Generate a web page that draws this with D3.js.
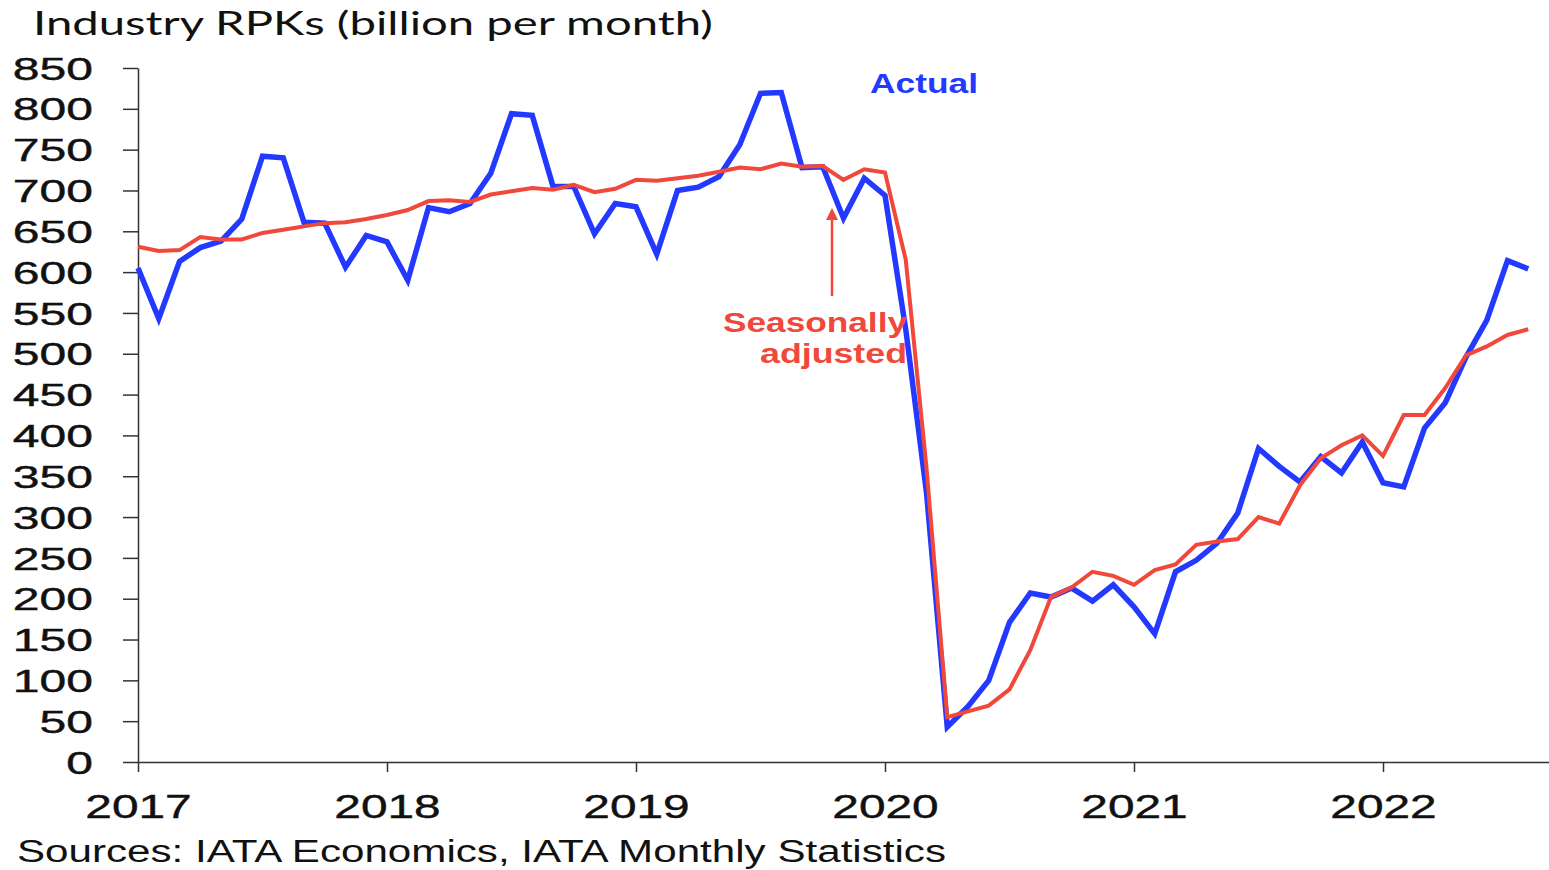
<!DOCTYPE html>
<html>
<head>
<meta charset="utf-8">
<script src="https://cdn.jsdelivr.net/npm/d3@7"></script>
<style>
  body { margin: 0; background: #fff; }
  svg text { fill: #111; }
</style>
</head>
<body>
<svg id="chart" width="1549" height="870"></svg>
<script>
// months Jan 2017 .. Aug 2022
var years = [2017, 2018, 2019, 2020, 2021, 2022];
var yTicks = [0, 50, 100, 150, 200, 250, 300, 350, 400, 450, 500, 550, 600, 650, 700, 750, 800, 850];

var actual = [
  605, 543, 613, 630, 638, 665, 742, 740, 661, 660, 606, 645,
  637, 590, 679, 674, 684, 721, 794, 792, 705, 705, 647, 684,
  680, 622, 700, 704, 717, 756, 819, 820, 728, 729, 666, 715,
  694, 530, 330, 43, 68, 100, 171, 207, 202, 213, 197, 217,
  190, 157, 233, 247, 268, 305, 384, 362, 343, 374, 354, 392,
  342, 337, 409, 440, 496, 541, 614, 604
];

var seasAdj = [
  631, 626, 627, 643, 640, 640, 648, 652, 656, 660, 661, 665,
  670, 676, 687, 688, 686, 695, 699, 703, 701, 707, 698, 702,
  713, 712, 715, 718, 723, 728, 726, 733, 729, 730, 713, 726,
  722, 615, 360, 55, 62, 69, 89, 137, 202, 214, 233, 228,
  217, 235, 242, 266, 270, 273, 300, 292, 339, 372, 388, 400,
  375, 425, 425, 458, 498, 509, 523, 530
];

var blue = "#2339ff", red = "#f0483a";

var svg = d3.select("#chart");

var x = d3.scaleLinear().domain([0, 68]).range([138, 1549]);
var y = d3.scaleLinear().domain([0, 850]).range([762, 68]);

// title
svg.append("text")
  .attr("x", 33).attr("y", 35)
  .attr("textLength", 680).attr("lengthAdjust", "spacingAndGlyphs")
  .style("font-family", "Lato, 'Open Sans', sans-serif")
  .style("font-size", "32px")
  .text("Industry RPKs (billion per month)");

// y axis
var yAxis = svg.append("g")
  .attr("transform", "translate(" + x(0) + ",0)")
  .call(d3.axisLeft(y).tickValues(yTicks).tickSize(15).tickSizeOuter(0));
yAxis.select(".domain").attr("stroke", "#333").attr("stroke-width", 1.5);
yAxis.selectAll(".tick line").attr("stroke", "#333").attr("stroke-width", 1.5);
yAxis.selectAll(".tick text")
  .attr("x", -45 / 1.55)
  .attr("dy", "0.36em")
  .attr("transform", "scale(1.55,1)")
  .style("font-family", "'Liberation Sans', Arial, sans-serif")
  .style("font-size", "31px")
  .style("fill", "#111")
  .style("stroke", "#111").style("stroke-width", 0.4);

// x axis
var xAxis = svg.append("g")
  .attr("transform", "translate(0," + y(0) + ")")
  .call(d3.axisBottom(x).tickValues([0, 12, 24, 36, 48, 60]).tickSize(10).tickSizeOuter(0)
    .tickFormat(function(d) { return years[d / 12]; }));
xAxis.select(".domain").attr("stroke", "#333").attr("stroke-width", 1.5);
xAxis.selectAll(".tick line").attr("stroke", "#333").attr("stroke-width", 1.5);
xAxis.selectAll(".tick text")
  .attr("y", 56)
  .attr("dy", 0)
  .attr("transform", "scale(1.45,1)")
  .style("font-family", "'Liberation Sans', Arial, sans-serif")
  .style("font-size", "33px")
  .style("fill", "#111")
  .style("stroke", "#111").style("stroke-width", 0.4);

// lines
var line = d3.line()
  .x(function(d, i) { return x(i); })
  .y(function(d) { return y(d); });

svg.append("path")
  .datum(actual)
  .attr("d", line)
  .attr("fill", "none")
  .attr("stroke", blue)
  .attr("stroke-width", 5.5)
  .attr("stroke-linejoin", "miter");

svg.append("path")
  .datum(seasAdj)
  .attr("d", line)
  .attr("fill", "none")
  .attr("stroke", red)
  .attr("stroke-width", 4)
  .attr("stroke-linejoin", "miter");

// annotations
svg.append("text")
  .attr("x", 870).attr("y", 93)
  .attr("textLength", 108).attr("lengthAdjust", "spacingAndGlyphs")
  .style("font-family", "'Liberation Sans', Arial, sans-serif")
  .style("font-weight", "bold").style("font-size", "27px")
  .style("fill", blue)
  .text("Actual");

svg.append("text")
  .attr("x", 723).attr("y", 332)
  .attr("textLength", 184).attr("lengthAdjust", "spacingAndGlyphs")
  .style("font-family", "'Liberation Sans', Arial, sans-serif")
  .style("font-weight", "bold").style("font-size", "27px")
  .style("fill", red)
  .text("Seasonally");

svg.append("text")
  .attr("x", 760).attr("y", 363)
  .attr("textLength", 147).attr("lengthAdjust", "spacingAndGlyphs")
  .style("font-family", "'Liberation Sans', Arial, sans-serif")
  .style("font-weight", "bold").style("font-size", "27px")
  .style("fill", red)
  .text("adjusted");

// arrow
svg.append("line")
  .attr("x1", 832).attr("y1", 296)
  .attr("x2", 832).attr("y2", 218)
  .attr("stroke", red).attr("stroke-width", 2.5);
svg.append("path")
  .attr("d", "M826,220 L832,208 L838,220 Z")
  .attr("fill", red);

// source
svg.append("text")
  .attr("x", 17).attr("y", 862)
  .attr("textLength", 929).attr("lengthAdjust", "spacingAndGlyphs")
  .style("font-family", "'Liberation Sans Narrow', 'Liberation Sans', Arial, sans-serif")
  .style("font-size", "31px")
  .style("fill", "#111")
  .text("Sources: IATA Economics, IATA Monthly Statistics");
</script>
</body>
</html>
